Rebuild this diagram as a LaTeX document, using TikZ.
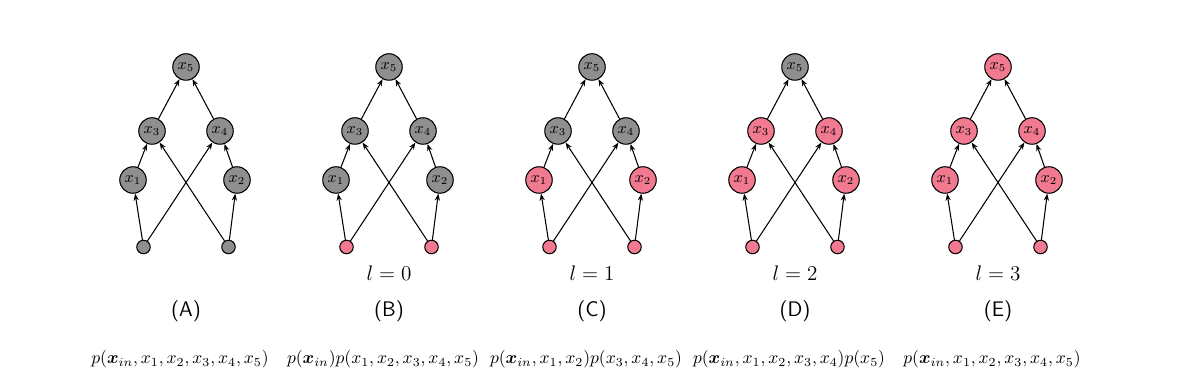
\documentclass[tikz,border=0pt]{standalone}
\usepackage{amsmath,bm}
\usetikzlibrary{arrows.meta}
\definecolor{nodegrey}{HTML}{8F8F8F}
\definecolor{nodepink}{HTML}{F27A90}

\begin{document}
\begin{tikzpicture}[>={Stealth[length=4pt,width=3pt]},x=0.02cm,y=-0.02cm,
  var/.style={circle,draw,semithick,minimum size=0.53cm,inner sep=0pt,font=\small},
  inp/.style={circle,draw,semithick,minimum size=0.27cm,inner sep=0pt},
  edge/.style={->,semithick}]
 \useasboundingbox (0,0) rectangle (1184,388);
 \foreach \c/\k/\p/\lv/\fm in {
   186/-1/A/{}/{$p(\bm{x}_{in},x_1,x_2,x_3,x_4,x_5)$},
   389/0/B/{$l=0$}/{$p(\bm{x}_{in})p(x_1,x_2,x_3,x_4,x_5)$},
   592/1/C/{$l=1$}/{$p(\bm{x}_{in},x_1,x_2)p(x_3,x_4,x_5)$},
   795/2/D/{$l=2$}/{$p(\bm{x}_{in},x_1,x_2,x_3,x_4)p(x_5)$},
   998/3/E/{$l=3$}/{$p(\bm{x}_{in},x_1,x_2,x_3,x_4,x_5)$}}{
   % pink up to level \k
   \ifnum\k>-1 \def\ca{nodepink}\else\def\ca{nodegrey}\fi
   \ifnum\k>0 \def\cb{nodepink}\else\def\cb{nodegrey}\fi
   \ifnum\k>1 \def\cc{nodepink}\else\def\cc{nodegrey}\fi
   \ifnum\k>2 \def\cd{nodepink}\else\def\cd{nodegrey}\fi
   \node[inp,fill=\ca] (ia\p) at (\c-42.5,247) {};
   \node[inp,fill=\ca] (ib\p) at (\c+42.5,247) {};
   \node[var,fill=\cb] (x1\p) at (\c-53,180) {$x_1$};
   \node[var,fill=\cb] (x2\p) at (\c+51,180) {$x_2$};
   \node[var,fill=\cc] (x3\p) at (\c-34,131) {$x_3$};
   \node[var,fill=\cc] (x4\p) at (\c+34,131) {$x_4$};
   \node[var,fill=\cd] (x5\p) at (\c,67) {$x_5$};
   \draw[edge] (ia\p) -- (x1\p);
   \draw[edge] (ib\p) -- (x2\p);
   \draw[edge] (ia\p) -- (x4\p);
   \draw[edge] (ib\p) -- (x3\p);
   \draw[edge] (x1\p) -- (x3\p);
   \draw[edge] (x2\p) -- (x4\p);
   \draw[edge] (x3\p) -- (x5\p);
   \draw[edge] (x4\p) -- (x5\p);
   \node[font=\large] (lv\p) at (\c,273) {\lv};
   \node[font=\large\sffamily] (pn\p) at (\c,311) {(\p)};
   \node (fm\p) at (\c-6,359) {\fm};
 }
\end{tikzpicture}
\end{document}
